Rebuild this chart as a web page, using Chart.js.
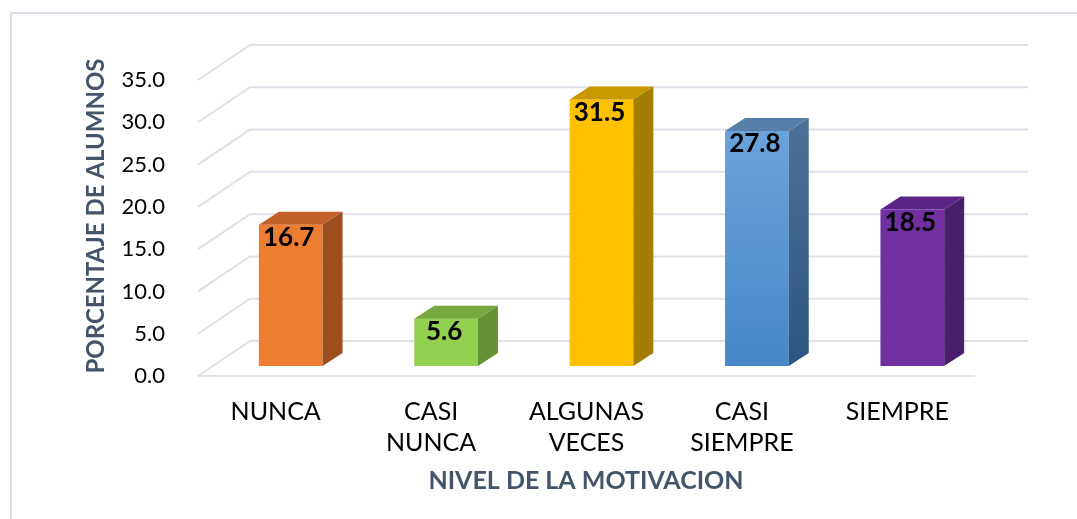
<!doctype html>
<html>

<head>
    <meta charset="utf-8" />
    <title>Nivel de la motivacion</title>
    <style>
        html,
        body {
            margin: 0px;
            padding: 0px;
            background-color: #ffffff;
            font-family: "Lato";
        }

        .chart {
            position: relative;
            width: 1077px;
            height: 519px;
        }
    </style>
</head>

<body>
    <div class="chart">
        <canvas id="chart_motivacion"></canvas>
    </div>

    <script src="https://cdn.jsdelivr.net/npm/chart.js@4.4.0/dist/chart.umd.min.js"></script>

    <script>
        // data
        var categories = ['NUNCA', ['CASI', 'NUNCA'], ['ALGUNAS', 'VECES'], ['CASI', 'SIEMPRE'], 'SIEMPRE'];
        var porcentajes = [16.7, 5.6, 31.5, 27.8, 18.5];
        var yTicks = [0, 5, 10, 15, 20, 25, 30, 35];

        // colours of the three faces of each bar
        var frontColors = ['#ED7D31', '#92D050', '#FFC000', null, '#7030A0'];
        var topColors = ['#C2622A', '#76A83E', '#C99700', '#587FA8', '#5A2587'];
        var sideColors = ['#9C4E1E', '#669236', '#A47C00', null, '#4A1E6A'];

        var titleColor = '#44546A';
        var gridColor = '#DDE1E8';
        var depth = { dx: 20, dy: 13 };

        function blueFront(ctx) {
            var area = ctx.chart.chartArea;
            if (!area) return '#5B9BD5';
            var g = ctx.chart.ctx.createLinearGradient(0, area.top, 0, area.bottom);
            g.addColorStop(0, '#74AADF');
            g.addColorStop(1, '#4587C8');
            return g;
        }

        var walls = {
            id: 'walls',
            beforeDraw: function (chart) {
                var c = chart.ctx;
                c.save();
                c.strokeStyle = '#D9DEE6';
                c.lineWidth = 2;
                c.strokeRect(11, 13, 1200, 700);
                c.restore();
            },
            beforeDatasetsDraw: function (chart) {
                var c = chart.ctx;
                var a = chart.chartArea;
                var y = chart.scales.y;
                c.save();
                c.strokeStyle = gridColor;
                c.lineWidth = 2;
                yTicks.forEach(function (v) {
                    var py = y.getPixelForValue(v);
                    c.beginPath();
                    c.moveTo(a.left - 15, py + 10);
                    c.lineTo(a.left + 37, py - 25);
                    c.lineTo(a.right + 38, py - 25);
                    c.stroke();
                });
                var p0 = y.getPixelForValue(0);
                c.beginPath();
                c.moveTo(a.left - 15, p0 + 10);
                c.lineTo(a.right - 15, p0 + 10);
                c.stroke();
                c.restore();
            },
            afterDatasetsDraw: function (chart) {
                var c = chart.ctx;
                var meta = chart.getDatasetMeta(0);
                c.save();
                meta.data.forEach(function (bar, i) {
                    var x0 = bar.x - bar.width / 2;
                    var x1 = bar.x + bar.width / 2;
                    var top = bar.y;
                    var base = bar.base;

                    c.fillStyle = topColors[i];
                    c.beginPath();
                    c.moveTo(x0, top);
                    c.lineTo(x1, top);
                    c.lineTo(x1 + depth.dx, top - depth.dy);
                    c.lineTo(x0 + depth.dx, top - depth.dy);
                    c.closePath();
                    c.fill();

                    var side = sideColors[i];
                    if (!side) {
                        side = c.createLinearGradient(0, top, 0, base);
                        side.addColorStop(0, '#4C7098');
                        side.addColorStop(1, '#2B5580');
                    }
                    c.fillStyle = side;
                    c.beginPath();
                    c.moveTo(x1, top);
                    c.lineTo(x1 + depth.dx, top - depth.dy);
                    c.lineTo(x1 + depth.dx, base - depth.dy);
                    c.lineTo(x1, base);
                    c.closePath();
                    c.fill();

                    // value label
                    c.fillStyle = '#000000';
                    c.font = 'bold 26px Lato';
                    c.textAlign = 'center';
                    c.textBaseline = 'middle';
                    c.fillText(porcentajes[i].toFixed(1), bar.x - 2, top + 13);
                });
                c.restore();
            },
            afterDraw: function (chart) {
                var c = chart.ctx;
                c.save();
                c.fillStyle = titleColor;
                c.textAlign = 'center';
                c.textBaseline = 'middle';
                c.font = 'bold 25px Lato';
                c.fillText('NIVEL DE LA MOTIVACION', 586, 481);
                c.font = 'bold 24px Lato';
                c.translate(96, 216);
                c.rotate(-Math.PI / 2);
                c.fillText('PORCENTAJE DE ALUMNOS', 0, 0);
                c.restore();
            }
        };

        var ctx = document.getElementById('chart_motivacion').getContext('2d');
        var chart = new Chart(ctx, {
            type: 'bar',
            data: {
                labels: categories,
                datasets: [
                    {
                        label: 'Porcentaje',
                        data: porcentajes,
                        backgroundColor: function (c) {
                            return frontColors[c.dataIndex] || blueFront(c);
                        },
                        borderWidth: 0,
                        barPercentage: 0.41,
                        categoryPercentage: 1
                    }
                ]
            },
            options: {
                animation: false,
                responsive: true,
                maintainAspectRatio: false,
                layout: {
                    padding: { left: 0, right: 87, top: 70, bottom: 0 }
                },
                plugins: {
                    legend: { display: false },
                    tooltip: { enabled: false }
                },
                scales: {
                    x: {
                        grid: { display: false },
                        border: { display: false },
                        ticks: {
                            color: '#000000',
                            font: { family: 'Lato', size: 25, lineHeight: 1.24 },
                            padding: 22,
                            labelOffset: -15,
                            maxRotation: 0,
                            autoSkip: false
                        },
                        afterFit: function (scale) { scale.height = 153; }
                    },
                    y: {
                        min: 0,
                        max: 35,
                        grid: { display: false },
                        border: { display: false },
                        ticks: {
                            stepSize: 5,
                            color: '#000000',
                            font: { family: 'Lato', size: 22 },
                            padding: 40,
                            labelOffset: 10,
                            callback: function (v) { return v.toFixed(1); }
                        },
                        afterFit: function (scale) { scale.width = 213; }
                    }
                }
            },
            plugins: [walls]
        });
    </script>
</body>

</html>
